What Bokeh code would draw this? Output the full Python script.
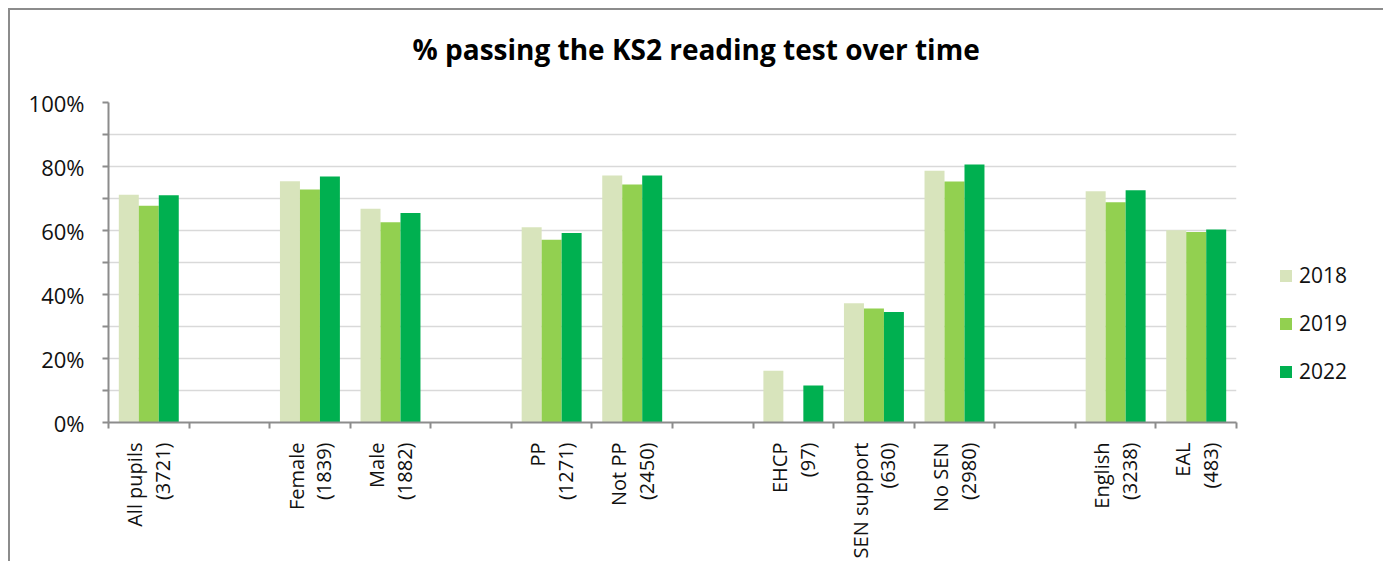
import numpy as np
from bokeh.plotting import figure
from bokeh.models import ColumnDataSource, FixedTicker, Legend, LegendItem, Title
from bokeh.embed import file_html
from bokeh.resources import INLINE

# ---- data ----
categories = ["All pupils\n(3721)", "Female\n(1839)", "Male\n(1882)", "PP\n(1271)",
              "Not PP\n(2450)", "EHCP\n(97)", "SEN support\n(630)", "No SEN\n(2980)",
              "English\n(3238)", "EAL\n(483)"]
groups = [0, 1, 1, 2, 2, 3, 3, 3, 4, 4]
years = ["2018", "2019", "2022"]
pct_2018 = [71.2, 75.4, 66.8, 61.0, 77.2, 16.2, 37.3, 78.7, 72.3, 60.1]
pct_2019 = [67.7, 72.8, 62.6, 57.1, 74.4, np.nan, 35.6, 75.3, 68.8, 59.5]
pct_2022 = [71.0, 76.9, 65.5, 59.2, 77.2, 11.6, 34.5, 80.6, 72.6, 60.3]
y_ticks = list(range(0, 101, 10))

colors = ["#d8e4bc", "#92d050", "#00b050"]
FONT = "Open Sans"
AXIS = "#8c8c8c"
TXT = "#111111"

slots = [i + g for i, g in enumerate(groups)]
n_slots = slots[-1] + 1
centers = [s + 0.5 for s in slots]
bw = 0.248
offsets = [-bw, 0.0, bw]

p = figure(frame_width=1128, frame_height=320,
           min_border_left=98, min_border_right=140, min_border_top=92, min_border_bottom=133,
           x_range=(0, n_slots), y_range=(0, 100),
           output_backend="svg", toolbar_location=None)
p.outline_line_color = None
p.background_fill_color = "white"
p.border_fill_color = "white"
p.styles = {"margin-left": "8px", "margin-top": "8px",
            "border-top": "2px solid #8c8c8c", "border-left": "2px solid #8c8c8c",
            "border-right": "2px solid #8c8c8c"}

p.title = Title(text="% passing the KS2 reading test over time\n ", align="left", offset=304,
                text_font=FONT, text_font_style="bold", text_font_size="28px",
                text_line_height=0.5, text_color="black", standoff=32)

renderers = []
for yr, vals, off, col in zip(years, [pct_2018, pct_2019, pct_2022], offsets, colors):
    src = ColumnDataSource(dict(x=[c + off for c in centers], top=vals))
    r = p.vbar(x="x", top="top", bottom=0, width=bw, source=src,
               fill_color=col, line_color=None)
    renderers.append(r)

# y axis
p.yaxis.ticker = FixedTicker(ticks=y_ticks)
p.yaxis.major_label_overrides = {t: (f"{t}%" if t % 20 == 0 else "") for t in y_ticks}
p.yaxis.major_tick_out = 6
p.yaxis.major_tick_in = 0
p.yaxis.minor_tick_out = 0
p.yaxis.minor_tick_in = 0
p.yaxis.major_label_standoff = 18
p.yaxis.axis_line_color = AXIS
p.yaxis.axis_line_width = 2
p.yaxis.major_tick_line_color = AXIS
p.yaxis.major_tick_line_width = 2
p.yaxis.major_label_text_font = FONT
p.yaxis.major_label_text_font_size = "22px"
p.yaxis.major_label_text_color = TXT

# x axis
p.xaxis.ticker = FixedTicker(ticks=centers, minor_ticks=list(range(0, n_slots + 1)))
p.xaxis.major_label_overrides = {c: lab for c, lab in zip(centers, categories)}
p.xaxis.major_label_orientation = np.pi / 2
p.xaxis.major_tick_out = 0
p.xaxis.major_tick_in = 0
p.xaxis.minor_tick_out = 6
p.xaxis.minor_tick_in = 0
p.xaxis.minor_tick_line_color = AXIS
p.xaxis.minor_tick_line_width = 2
p.xaxis.axis_line_color = AXIS
p.xaxis.axis_line_width = 2
p.xaxis.major_label_standoff = 14
p.xaxis.major_label_text_font = FONT
p.xaxis.major_label_text_font_size = "20px"
p.xaxis.major_label_text_color = TXT
p.xaxis.major_label_text_line_height = 1.03

p.xgrid.grid_line_color = None
p.ygrid.grid_line_color = "#d9d9d9"
p.ygrid.grid_line_width = 1.5

legend = Legend(items=[LegendItem(label=yr, renderers=[r]) for yr, r in zip(years, renderers)],
                location=(42, 37), orientation="vertical",
                glyph_width=15, glyph_height=15, label_standoff=6, spacing=20,
                padding=0, margin=0, border_line_color=None, background_fill_alpha=0,
                label_text_font=FONT, label_text_font_size="21px", label_text_color=TXT)
p.add_layout(legend, "right")

open("out.html", "w").write(file_html(p, INLINE))
